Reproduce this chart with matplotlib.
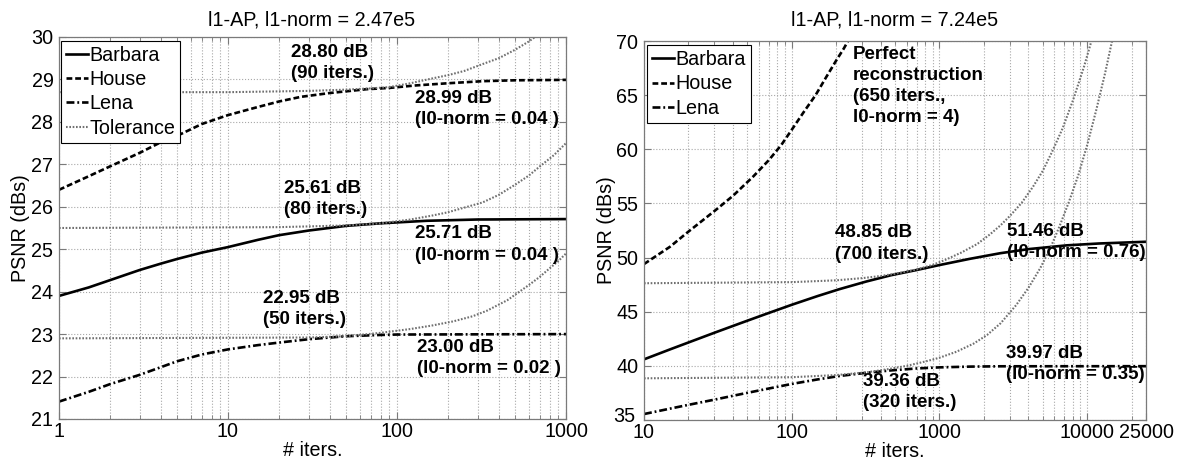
import matplotlib
matplotlib.use("Agg")
import matplotlib.pyplot as plt
from matplotlib.transforms import ScaledTranslation
from matplotlib.ticker import FixedLocator, FixedFormatter, LogLocator, NullFormatter, NullLocator

plt.rcParams['font.family'] = ['Liberation Sans', 'DejaVu Sans']

# ---------------- data: l1-norm = 2.47e5 ----------------
l_barbara_x = [1, 1.5, 2, 3, 4, 5, 7, 10, 15, 20, 30, 50, 80, 150, 300, 1000]
l_barbara_y = [23.90, 24.10, 24.27, 24.51, 24.66, 24.77, 24.92, 25.05, 25.22, 25.33, 25.44, 25.55,
               25.61, 25.67, 25.70, 25.71]
l_house_x = [1, 1.5, 2, 3, 4, 5.3, 7, 10, 15, 20, 27, 40, 50, 66, 90, 130, 200, 325, 500, 1000]
l_house_y = [26.40, 26.72, 26.95, 27.27, 27.52, 27.72, 27.95, 28.16, 28.35, 28.48, 28.59, 28.68,
             28.72, 28.77, 28.80, 28.86, 28.91, 28.96, 28.98, 28.99]
l_lena_x = [1, 1.5, 2, 3, 4, 5, 7, 10, 15, 20, 30, 50, 80, 100, 1000]
l_lena_y = [21.41, 21.64, 21.82, 22.04, 22.22, 22.36, 22.52, 22.64, 22.74, 22.80, 22.88, 22.95,
            22.98, 22.99, 23.00]

l_tol_house_x = [1, 10, 30, 50, 70, 90, 120, 160, 200, 250, 320, 400, 500, 600, 700]
l_tol_house_y = [28.70, 28.70, 28.73, 28.76, 28.79, 28.82, 28.91, 29.02, 29.10, 29.20, 29.36,
                 29.50, 29.70, 29.89, 30.08]
l_tol_barbara_x = [1, 20, 50, 80, 120, 160, 200, 250, 320, 400, 500, 600, 700, 850, 1000]
l_tol_barbara_y = [25.50, 25.52, 25.56, 25.61, 25.70, 25.79, 25.87, 25.98, 26.10, 26.28, 26.52,
                   26.73, 26.95, 27.22, 27.50]
l_tol_lena_x = [1, 30, 50, 80, 120, 160, 215, 280, 340, 450, 600, 700, 800, 900, 1000]
l_tol_lena_y = [22.90, 22.92, 22.95, 23.03, 23.12, 23.20, 23.30, 23.42, 23.55, 23.80, 24.15,
                24.35, 24.55, 24.72, 24.90]

l_xticks = [1, 10, 100, 1000]
l_yticks = [21, 22, 23, 24, 25, 26, 27, 28, 29, 30]

# ---------------- data: l1-norm = 7.24e5 ----------------
r_barbara_x = [10, 15, 20, 30, 45, 65, 100, 150, 210, 320, 470, 700, 1000, 1600, 2573, 4000,
               7280, 12000, 25000]
r_barbara_y = [40.60, 41.52, 42.16, 43.06, 43.94, 44.73, 45.64, 46.45, 47.08, 47.79, 48.37, 48.85,
               49.31, 49.88, 50.40, 50.78, 51.13, 51.30, 51.46]
r_house_x = [10, 15, 20, 30, 40, 55, 70, 85, 100, 120, 145, 170, 200, 225, 245]
r_house_y = [49.40, 51.00, 52.40, 54.30, 55.70, 57.50, 59.00, 60.40, 61.80, 63.40, 65.00, 66.60,
             68.20, 69.30, 70.20]
r_lena_x = [10, 15, 20, 30, 45, 65, 100, 150, 212, 320, 470, 700, 1000, 1600, 2573, 25000]
r_lena_y = [35.55, 36.05, 36.40, 36.88, 37.38, 37.82, 38.33, 38.75, 39.07, 39.36, 39.58, 39.76,
            39.86, 39.93, 39.96, 39.97]

r_tol_barbara_x = [10, 100, 200, 300, 400, 500, 700, 900, 1100, 1400, 1800, 2200, 2600, 3000,
                   3600, 4300, 5000, 5800, 6800, 8000, 9500, 11000]
r_tol_barbara_y = [47.63, 47.73, 47.90, 48.10, 48.30, 48.50, 48.90, 49.33, 49.80, 50.45, 51.25,
                   52.15, 53.00, 53.85, 55.05, 56.55, 58.00, 59.80, 61.90, 64.50, 67.60, 70.60]
r_tol_lena_x = [10, 100, 200, 320, 450, 600, 800, 1000, 1300, 1700, 2100, 2600, 3300, 4000, 4800,
                5600, 6500, 7500, 8700, 10000, 11500, 13200, 15000]
r_tol_lena_y = [38.85, 38.95, 39.15, 39.40, 39.70, 40.00, 40.40, 40.75, 41.30, 42.05, 42.85, 43.95,
                45.60, 47.20, 49.00, 50.80, 52.90, 55.10, 57.60, 60.40, 63.60, 67.00, 70.50]

r_xticks = [10, 100, 1000, 10000, 25000]
r_yticks = [35, 40, 45, 50, 55, 60, 65, 70]

# ---------------- styling ----------------
AX_GRAY = '#7a7a7a'
GRID_GRAY = '#a8a8a8'
TOL_GRAY = '#707070'
FS = 14.2
FS_ANN = 13.5
LW = 1.9
style_barbara = dict(color='black', lw=LW, ls='-')
style_house = dict(color='black', lw=LW, ls=(0, (2.2, 1.1)))
style_lena = dict(color='black', lw=LW, ls=(0, (3.0, 1.1, 0.7, 1.1)))
style_tol = dict(color=TOL_GRAY, lw=1.5, ls=(0, (0.8, 0.8)))

fig = plt.figure(figsize=(11.79, 4.61), dpi=100)
W, H = 1179, 461
ax1 = fig.add_axes([59 / W, (H - 419) / H, 507 / W, 382 / H])
ax2 = fig.add_axes([644 / W, (H - 420) / H, 502 / W, 379 / H])


def style_axes(ax, xticks, yticks, xlim, ylim):
    ax.set_xscale('log')
    ax.set_xlim(*xlim)
    ax.set_ylim(*ylim)
    ax.xaxis.set_major_locator(FixedLocator(xticks))
    ax.xaxis.set_major_formatter(FixedFormatter([str(t) for t in xticks]))
    ax.xaxis.set_minor_locator(LogLocator(base=10, subs=range(2, 10), numticks=20))
    ax.xaxis.set_minor_formatter(NullFormatter())
    ax.yaxis.set_major_locator(FixedLocator(yticks))
    ax.yaxis.set_minor_locator(NullLocator())
    ax.grid(True, which='major', ls=':', color=GRID_GRAY, lw=0.8)
    ax.grid(True, which='minor', axis='x', ls=':', color=GRID_GRAY, lw=0.8)
    ax.set_axisbelow(True)
    for sp in ax.spines.values():
        sp.set_color(AX_GRAY)
        sp.set_linewidth(0.9)
    ax.tick_params(which='both', direction='in', top=True, right=True, color=AX_GRAY,
                   labelsize=FS, labelcolor='black')
    ax.tick_params(which='major', length=5, width=0.8)
    ax.tick_params(which='minor', length=3, width=0.6)
    ax.tick_params(axis='x', pad=2.5)
    ax.tick_params(axis='y', pad=4)
    ax.set_xlabel('# iters.', fontsize=FS)
    ax.set_ylabel('PSNR (dBs)', fontsize=FS, va='center')
    ax.xaxis.set_label_coords(0.5, -0.058)
    ax.yaxis.set_label_coords(-0.075, 0.5)


# ---------------- left panel ----------------
style_axes(ax1, l_xticks, l_yticks, (1, 1000), (21, 30))
ax1.plot(l_barbara_x, l_barbara_y, label='Barbara', **style_barbara)
ax1.plot(l_house_x, l_house_y, label='House', **style_house)
ax1.plot(l_lena_x, l_lena_y, label='Lena', **style_lena)
ax1.plot(l_tol_house_x, l_tol_house_y, label='Tolerance', **style_tol)
ax1.plot(l_tol_barbara_x, l_tol_barbara_y, **style_tol)
ax1.plot(l_tol_lena_x, l_tol_lena_y, **style_tol)

ann = dict(fontsize=FS_ANN, fontweight='bold', ha='left', va='center', linespacing=1.33)
ax1.text(23.6, 29.39, f'{l_house_y[14]:.2f} dB\n({l_house_x[14]} iters.)', **ann)
ax1.text(127, 28.31, f'{l_house_y[-1]:.2f} dB\n(l0-norm = 0.04 )', **ann)
ax1.text(21.4, 26.18, f'{l_barbara_y[12]:.2f} dB\n({l_barbara_x[12]} iters.)', **ann)
ax1.text(127, 25.11, f'{l_barbara_y[-1]:.2f} dB\n(l0-norm = 0.04 )', **ann)
ax1.text(16.1, 23.59, f'{l_lena_y[11]:.2f} dB\n({l_lena_x[11]} iters.)', **ann)
ax1.text(132, 22.43, f'{l_lena_y[-1]:.2f} dB\n(l0-norm = 0.02 )', **ann)

leg_kw = dict(loc='upper left', borderaxespad=0, fontsize=FS, fancybox=False, framealpha=1,
              edgecolor='black', handlelength=1.1, handletextpad=0.1, labelspacing=0.27,
              borderpad=0.25)
leg1 = ax1.legend(bbox_to_anchor=(0.004, 0.99), **leg_kw)
leg1.get_frame().set_linewidth(0.8)

# ---------------- right panel ----------------
style_axes(ax2, r_xticks, r_yticks, (10, 25000), (35, 70))
ax2.plot(r_barbara_x, r_barbara_y, label='Barbara', **style_barbara)
ax2.plot(r_house_x, r_house_y, label='House', **style_house)
ax2.plot(r_lena_x, r_lena_y, label='Lena', **style_lena)
ax2.plot(r_tol_barbara_x, r_tol_barbara_y, **style_tol)
ax2.plot(r_tol_lena_x, r_tol_lena_y, **style_tol)

ax2.text(260, 65.84, 'Perfect\nreconstruction\n(650 iters.,\nl0-norm = 4)', **ann)
ax2.text(196, 51.30, f'{r_barbara_y[11]:.2f} dB\n({r_barbara_x[11]} iters.)', **ann)
ax2.text(2850, 51.41, f'{r_barbara_y[-1]:.2f} dB\n(l0-norm = 0.76)', **ann)
ax2.text(2840, 40.17, f'{r_lena_y[-1]:.2f} dB\n(l0-norm = 0.35)', **ann)
ax2.text(304, 37.59, f'{r_lena_y[9]:.2f} dB\n({r_lena_x[9]} iters.)', **ann)

leg2 = ax2.legend(bbox_to_anchor=(0.006, 0.989), **leg_kw)
leg2.get_frame().set_linewidth(0.8)

# lift the lowest y label a little so it clears the first x label in the corner
for tick in ax2.yaxis.get_major_ticks()[:1]:
    lbl = tick.label1
    lbl.set_transform(lbl.get_transform() + ScaledTranslation(-2 / 72, 4 / 72, fig.dpi_scale_trans))

# ---------------- titles ----------------
fig.text(312 / W, 1 - 25 / H, 'l1-AP, l1-norm = 2.47e5', ha='center', va='baseline', fontsize=FS)
fig.text(895 / W, 1 - 26 / H, 'l1-AP, l1-norm = 7.24e5', ha='center', va='baseline', fontsize=FS)

fig.savefig('out.png', dpi=100, facecolor='white')
